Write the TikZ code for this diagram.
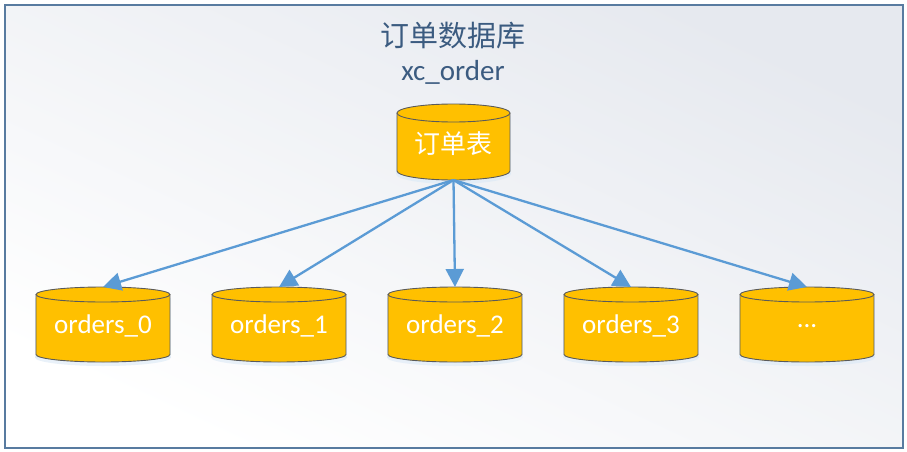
\documentclass[tikz,border=0pt]{standalone}
\usepackage{fontspec}
\setmainfont{Carlito}
\newfontfamily\cjk{Noto Sans CJK SC}
\usetikzlibrary{arrows.meta}
\definecolor{frameblue}{HTML}{587BA0}
\definecolor{titleblue}{HTML}{3B5B80}
\definecolor{dbfill}{HTML}{FFC000}
\definecolor{dbline}{HTML}{5A5A5A}
\definecolor{arrowblue}{HTML}{5B9BD5}
\definecolor{bggray}{HTML}{E6E9EF}
\tikzset{
  dbtext/.style={text=white, inner sep=0pt},
  link/.style={draw=arrowblue, line width=2.3pt, -{Triangle[length=18pt,width=18pt]}},
  cylline/.style={draw=dbline, line width=0.9pt},
}
% #1 name, #2 center x, #3 top y, #4 width, #5 height, #6 ry, #7 label
\newcommand\mydb[7]{%
  \pgfmathsetmacro\rxx{#4/2}%
  \pgfmathsetmacro\yt{#3+#6}%
  \pgfmathsetmacro\yb{#3+#5-#6}%
  \fill[arrowblue!22, opacity=0.6] (#2-\rxx-1, \yt+3) rectangle (#2+\rxx+1, \yb+3);
  \fill[arrowblue!22, opacity=0.6] (#2, \yb+3) ellipse[x radius=\rxx+1, y radius=#6+1];
  \fill[dbfill] (#2-\rxx, \yt) rectangle (#2+\rxx, \yb);
  \fill[dbfill] (#2, \yb) ellipse[x radius=\rxx, y radius=#6];
  \draw[cylline] (#2-\rxx, \yt) -- (#2-\rxx, \yb) arc[start angle=180, end angle=0, x radius=\rxx, y radius=#6] -- (#2+\rxx, \yt);
  \filldraw[fill=dbfill, cylline] (#2, \yt) ellipse[x radius=\rxx, y radius=#6];
  \coordinate (#1-top) at (#2, #3);
  \coordinate (#1-bot) at (#2, #3+#5);
  \node[dbtext] (#1) at (#2, {(\yt+#3+#5)/2-2.5}) {#7};
}
\begin{document}
\begin{tikzpicture}[x=1pt, y=-1pt]
  \useasboundingbox (0,0) rectangle (907,452);
  \shade[top color=bggray, bottom color=white, shading angle=-25] (5,5) rectangle (903,448);
  \draw[frameblue, line width=2pt] (5,5) rectangle (903,448);
  \node[text=titleblue, font=\cjk\fontsize{29}{34}\selectfont] (title) at (453,36) {订单数据库};
  \node[text=titleblue, font=\fontsize{29}{34}\selectfont] (sub) at (453,72) {xc\_order};
  \mydb{main}{453.5}{104}{113}{76}{9}{\cjk\fontsize{26}{30}\selectfont 订单表}
  \mydb{o0}{103}{287}{134}{75}{7.5}{\fontsize{27}{32}\selectfont orders\_0}
  \mydb{o1}{279}{287}{134}{75}{7.5}{\fontsize{27}{32}\selectfont orders\_1}
  \mydb{o2}{455}{287}{134}{75}{7.5}{\fontsize{27}{32}\selectfont orders\_2}
  \mydb{o3}{631}{287}{134}{75}{7.5}{\fontsize{27}{32}\selectfont orders\_3}
  \mydb{o4}{807}{287}{134}{75}{7.5}{\fontsize{27}{32}\selectfont ...}
  \foreach \t in {o0,o1,o2,o3,o4} \draw[link] (main-bot) -- (\t-top);
\end{tikzpicture}
\end{document}
